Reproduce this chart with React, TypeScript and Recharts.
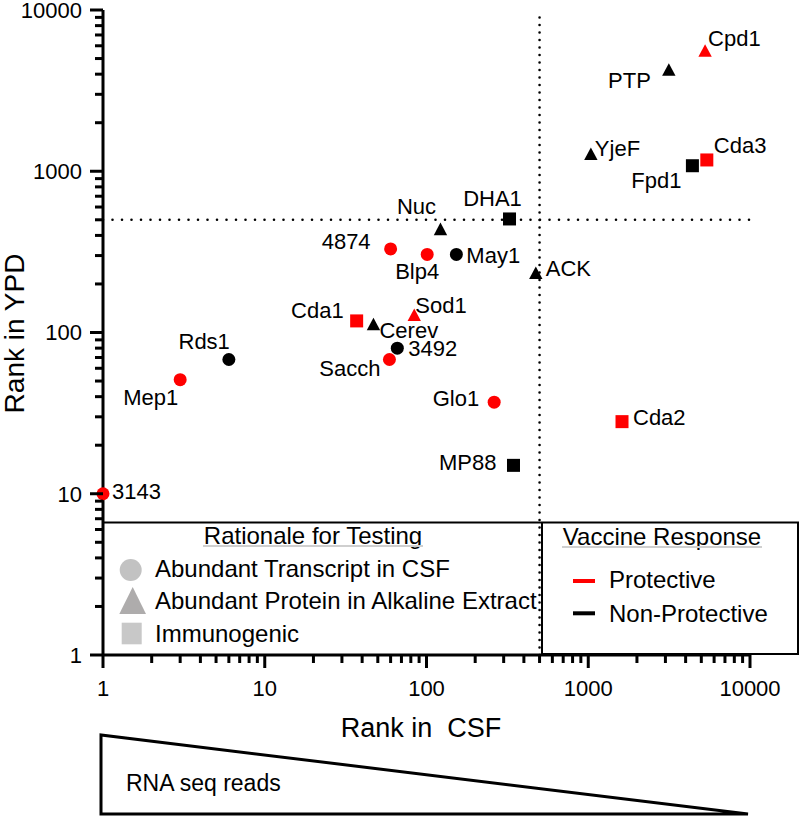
import React from 'react';
import { ScatterChart, Scatter, XAxis, YAxis, ReferenceLine } from 'recharts';

// ---------- data ----------
const geneNames = ['3143', 'Mep1', 'Rds1', 'Cda1', 'Cerev', 'Sod1', '3492', 'Sacch', 'Glo1', 'MP88', 'Nuc', 'DHA1', '4874', 'Blp4', 'May1', 'ACK', 'Cpd1', 'PTP', 'YjeF', 'Fpd1', 'Cda3', 'Cda2'];
const csfRank = [1, 3, 6, 37, 47, 84, 66, 59, 262, 345, 122, 326, 60, 101, 153, 474, 5276, 3149, 1038, 4405, 5408, 1617];
const ypdRank = [10, 51, 68, 118, 112, 128, 80, 68, 37, 15, 436, 506, 330, 305, 305, 233, 5570, 4245, 1274, 1082, 1175, 28];
const rationale = ['transcript', 'transcript', 'transcript', 'immunogenic', 'protein', 'protein', 'transcript', 'transcript', 'transcript', 'immunogenic', 'protein', 'immunogenic', 'transcript', 'transcript', 'transcript', 'protein', 'protein', 'protein', 'protein', 'immunogenic', 'immunogenic', 'immunogenic'];
const protectiveGenes = ['3143', 'Mep1', 'Cda1', 'Sod1', 'Sacch', 'Glo1', '4874', 'Blp4', 'Cpd1', 'Cda3', 'Cda2'];

const majorTicks = [1, 10, 100, 1000, 10000];
const minorSteps = [2, 3, 4, 5, 6, 7, 8, 9];
const thresholdRank = 500;

const rationaleLabels = ['Abundant Transcript in CSF', 'Abundant Protein in Alkaline Extract', 'Immunogenic'];
const responseLabels = ['Protective', 'Non-Protective'];

// ---------- styling / layout ----------
const FONT = '"Liberation Sans", Arial, Helvetica, sans-serif';
const RED = '#ff0000';
const BLACK = '#000000';

type Anchor = 'start' | 'end' | 'middle';
const labelPlacement: Record<string, { dx: number; dy: number; anchor: Anchor }> = {
  '3143': { dx: 9, dy: -3, anchor: 'start' },
  Mep1: { dx: -2, dy: 17, anchor: 'end' },
  Rds1: { dx: 1, dy: -18, anchor: 'end' },
  Cda1: { dx: -13, dy: -11, anchor: 'end' },
  Cerev: { dx: 6, dy: 6, anchor: 'start' },
  Sod1: { dx: 1, dy: -10, anchor: 'start' },
  '3492': { dx: 11, dy: 0, anchor: 'start' },
  Sacch: { dx: -9, dy: 9, anchor: 'end' },
  Glo1: { dx: -15, dy: -4, anchor: 'end' },
  MP88: { dx: -17, dy: -3, anchor: 'end' },
  Nuc: { dx: -24, dy: -23, anchor: 'middle' },
  DHA1: { dx: -17, dy: -21, anchor: 'middle' },
  '4874': { dx: -20, dy: -8, anchor: 'end' },
  Blp4: { dx: -10, dy: 17, anchor: 'middle' },
  May1: { dx: 10, dy: 1, anchor: 'start' },
  ACK: { dx: 10, dy: -5, anchor: 'start' },
  Cpd1: { dx: 3, dy: -13, anchor: 'start' },
  PTP: { dx: -18, dy: 10, anchor: 'end' },
  YjeF: { dx: 4, dy: -6, anchor: 'start' },
  Fpd1: { dx: -11, dy: 14, anchor: 'end' },
  Cda3: { dx: 7, dy: -15, anchor: 'start' },
  Cda2: { dx: 11, dy: -5, anchor: 'start' },
};

const points = geneNames.map((name, i) => ({
  name,
  csf: csfRank[i],
  ypd: ypdRank[i],
  rationale: rationale[i],
  protective: protectiveGenes.includes(name),
}));

const axisTicks: number[] = [];
majorTicks.forEach((m, i) => {
  axisTicks.push(m);
  if (i < majorTicks.length - 1) minorSteps.forEach((s) => axisTicks.push(m * s));
});

const isMajor = (v: number) => majorTicks.includes(v);

const YTick = (props: any) => {
  const { x, y, payload } = props;
  const v = payload.value;
  const major = isMajor(v);
  return (
    <g>
      <line x1={x} x2={x - (major ? 13 : 8)} y1={y} y2={y} stroke={BLACK} strokeWidth={3} />
      {major && (
        <text x={x - 21} y={y + 7.9} textAnchor="end" fontSize={22} fontFamily={FONT} fill={BLACK}>
          {String(v)}
        </text>
      )}
    </g>
  );
};

const XTick = (props: any) => {
  const { x, y, payload } = props;
  const v = payload.value;
  const major = isMajor(v);
  return (
    <g>
      <line x1={x} x2={x} y1={y} y2={y + (major ? 13 : 8)} stroke={BLACK} strokeWidth={3} />
      {major && (
        <text x={x} y={y + 41} textAnchor="middle" fontSize={22} fontFamily={FONT} fill={BLACK}>
          {String(v)}
        </text>
      )}
    </g>
  );
};

const renderPoint = (props: any) => {
  const { cx, cy, payload } = props;
  if (cx == null || cy == null || !payload) return <g />;
  const color = payload.protective ? RED : BLACK;
  let marker;
  if (payload.rationale === 'transcript') {
    marker = <circle cx={cx} cy={cy} r={6.5} fill={color} />;
  } else if (payload.rationale === 'protein') {
    marker = (
      <path d={`M${cx},${cy - 6.8} L${cx + 6.7},${cy + 5.8} L${cx - 6.7},${cy + 5.8} Z`} fill={color} />
    );
  } else {
    marker = <rect x={cx - 6.5} y={cy - 6.5} width={13} height={13} fill={color} />;
  }
  const lp = labelPlacement[payload.name] || { dx: 10, dy: 0, anchor: 'start' as Anchor };
  return (
    <g>
      {marker}
      <text
        x={cx + lp.dx}
        y={cy + lp.dy + 7.9}
        textAnchor={lp.anchor}
        fontSize={22}
        fontFamily={FONT}
        fill={BLACK}
      >
        {payload.name}
      </text>
    </g>
  );
};

export default function App() {
  return (
    <div style={{ position: 'absolute', left: 0, top: 0, width: 800, height: 817, background: '#fff' }}>
      <ScatterChart width={800} height={817} margin={{ top: 10, right: 50, bottom: 122, left: 43 }}>
        <XAxis
          type="number"
          dataKey="csf"
          scale="log"
          domain={[1, 10000]}
          ticks={axisTicks}
          interval={0}
          tickSize={0}
          tickMargin={0}
          tickLine={false}
          tick={<XTick />}
          axisLine={{ stroke: BLACK, strokeWidth: 3 }}
          height={40}
        />
        <YAxis
          type="number"
          dataKey="ypd"
          scale="log"
          domain={[1, 10000]}
          ticks={axisTicks}
          interval={0}
          tickSize={0}
          tickMargin={0}
          tickLine={false}
          tick={<YTick />}
          axisLine={{ stroke: BLACK, strokeWidth: 3 }}
          width={60}
        />
        <ReferenceLine
          x={thresholdRank}
          stroke={BLACK}
          strokeWidth={2.6}
          strokeDasharray="0 7.5"
          strokeLinecap="round"
        />
        <ReferenceLine
          y={thresholdRank}
          stroke={BLACK}
          strokeWidth={2.6}
          strokeDasharray="0 9.5"
          strokeLinecap="round"
        />
        <Scatter data={points} shape={renderPoint} isAnimationActive={false} />
      </ScatterChart>
      <svg
        width={800}
        height={817}
        style={{ position: 'absolute', left: 0, top: 0, pointerEvents: 'none' }}
        fontFamily={FONT}
      >
        {/* axis titles */}
        <text
          transform="translate(23.5,333.5) rotate(-90)"
          textAnchor="middle"
          fontSize={28}
          fill={BLACK}
        >
          Rank in YPD
        </text>
        <text x={421} y={736.7} textAnchor="middle" fontSize={27} fill={BLACK} style={{ whiteSpace: 'pre' }}>
          {'Rank in  CSF'}
        </text>

        {/* rationale legend box */}
        <rect x={105} y={523.5} width={432} height={129.5} fill="#fff" />
        <line x1={103} y1={522.5} x2={541} y2={522.5} stroke={BLACK} strokeWidth={2} />
        <text x={313} y={544} textAnchor="middle" fontSize={24} fill={BLACK}>
          Rationale for Testing
        </text>
        <line x1={203} y1={546} x2={423} y2={546} stroke="#cfcfcf" strokeWidth={2} />
        <circle cx={130.7} cy={570} r={11} fill="#c2c2c2" />
        <text x={155} y={577} fontSize={24} fill={BLACK}>
          {rationaleLabels[0]}
        </text>
        <path d="M132.7,587 L146,614 L119.3,614 Z" fill="#aeacac" />
        <text x={155} y={609.3} fontSize={24} fill={BLACK}>
          {rationaleLabels[1]}
        </text>
        <rect x={121.7} y={622.7} width={20} height={21.6} fill="#c8c8c8" />
        <text x={155} y={641.7} fontSize={24} fill={BLACK}>
          {rationaleLabels[2]}
        </text>

        {/* vaccine response legend box */}
        <rect x={542} y={522.5} width={256} height={131.5} fill="#fff" stroke={BLACK} strokeWidth={2} />
        <text x={662} y={545} textAnchor="middle" fontSize={24} fill={BLACK}>
          Vaccine Response
        </text>
        <line x1={562} y1={547} x2={762} y2={547} stroke="#cfcfcf" strokeWidth={2} />
        <line x1={573} y1={581} x2={595} y2={581} stroke={RED} strokeWidth={4} />
        <text x={609} y={588.3} fontSize={24} fill={BLACK}>
          {responseLabels[0]}
        </text>
        <line x1={573} y1={613.3} x2={595} y2={613.3} stroke={BLACK} strokeWidth={4} />
        <text x={609} y={621.7} fontSize={24} fill={BLACK}>
          {responseLabels[1]}
        </text>

        {/* RNA seq wedge */}
        <path d="M101,735 L101,814 L748,814 Z" fill="#fff" stroke={BLACK} strokeWidth={3} strokeLinejoin="miter" />
        <text x={126} y={791} fontSize={23} fill={BLACK}>
          RNA seq reads
        </text>
      </svg>
    </div>
  );
}
